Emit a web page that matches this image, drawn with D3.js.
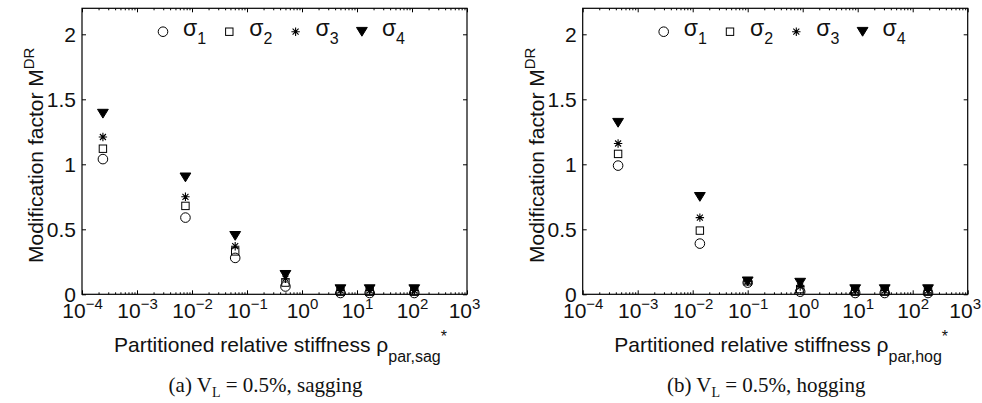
<!DOCTYPE html>
<html>
<head>
<meta charset="utf-8">
<script src="https://cdn.jsdelivr.net/npm/d3@7"></script>
<style>
  body { margin: 0; background: #fff; }
  svg text { fill: #111; }
</style>
</head>
<body>
<script>
// data
const xTicks = [1e-4, 1e-3, 1e-2, 1e-1, 1e0, 1e1, 1e2, 1e3];
const yTicks = [0, 0.5, 1, 1.5, 2];
const seriesNames = ["1", "2", "3", "4"];

// (a) sagging
const xSag = [2.4e-4, 7.6e-3, 0.061, 0.5, 5, 17, 110];
const sagS1 = [1.04, 0.59, 0.28, 0.06, 0.01, 0.01, 0.01];
const sagS2 = [1.12, 0.68, 0.33, 0.09, 0.02, 0.02, 0.02];
const sagS3 = [1.21, 0.75, 0.37, 0.12, 0.03, 0.03, 0.03];
const sagS4 = [1.39, 0.90, 0.45, 0.15, 0.04, 0.04, 0.04];

// (b) hogging
const xHog = [4.4e-4, 0.0135, 0.1, 0.9, 9, 31, 190];
const hogS1 = [0.99, 0.39, 0.09, 0.02, 0.01, 0.01, 0.01];
const hogS2 = [1.08, 0.49, 0.10, 0.04, 0.02, 0.02, 0.02];
const hogS3 = [1.16, 0.59, 0.10, 0.06, 0.03, 0.03, 0.03];
const hogS4 = [1.32, 0.75, 0.10, 0.09, 0.04, 0.04, 0.04];

const W = 982, H = 403;
const plotW = 385, plotH = 286;
const SANS = "Liberation Sans, Arial, Helvetica, sans-serif";
const SERIF = "Liberation Serif, Times New Roman, serif";

const svg = d3.select("body")
    .append("svg")
    .attr("width", W)
    .attr("height", H)
    .attr("font-family", SANS);

// marker shapes, MATLAB style
const markers = [
  g => g.append("circle").attr("r", 4.8).attr("fill", "none").attr("stroke", "#000").attr("stroke-width", 1),
  g => g.append("rect").attr("x", -3.7).attr("y", -3.7).attr("width", 7.4).attr("height", 7.4)
        .attr("fill", "none").attr("stroke", "#000").attr("stroke-width", 1),
  g => g.append("path").attr("d", "M-4.2,0H4.2M0,-4.2V4.2M-3,-3L3,3M-3,3L3,-3")
        .attr("fill", "none").attr("stroke", "#000").attr("stroke-width", 1.1),
  g => g.append("path").attr("d", "M-5.4,-4.3L5.4,-4.3L0,4.5Z").attr("fill", "#000").attr("stroke", "#000")
];

function drawPanel(left, xs, series, sub, caption) {
  const g = svg.append("g").attr("transform", `translate(${left}, 8.3)`);

  const x = d3.scaleLog().domain([1e-4, 1e3]).range([0, plotW]);
  const y = d3.scaleLinear().domain([0, 2.2]).range([plotH, 0]);

  const minor = [];
  for (let e = -4; e < 3; e++) for (let m = 2; m <= 9; m++) minor.push(m * Math.pow(10, e));

  // minor ticks bottom / top
  g.append("g").attr("transform", `translate(0, ${plotH})`)
    .call(d3.axisBottom(x).tickValues(minor).tickSize(-2).tickSizeOuter(0).tickFormat(""));
  g.append("g")
    .call(d3.axisTop(x).tickValues(minor).tickSize(-2).tickSizeOuter(0).tickFormat(""));

  // major x ticks
  const xAxis = g.append("g").attr("transform", `translate(0, ${plotH})`)
    .call(d3.axisBottom(x).tickValues(xTicks).tickSize(-4).tickSizeOuter(0).tickPadding(9).tickFormat(""));
  xAxis.selectAll(".tick text")
    .attr("font-size", 21)
    .attr("dy", "0.71em")
    .attr("dx", d => d === 1e3 ? -3 : 0)
    .each(function(d) {
      const t = d3.select(this);
      t.append("tspan").text("10");
      t.append("tspan").attr("dy", -9).attr("font-size", 15)
        .text(String(Math.round(Math.log10(d))).replace("-", "\u2212"));
    });
  g.append("g")
    .call(d3.axisTop(x).tickValues(xTicks).tickSize(-4).tickSizeOuter(0).tickFormat(""));

  // y ticks
  g.append("g")
    .call(d3.axisLeft(y).tickValues(yTicks).tickSize(-4).tickSizeOuter(0).tickPadding(6).tickFormat(d3.format("")))
    .selectAll("text").attr("font-size", 21);
  g.append("g").attr("transform", `translate(${plotW}, 0)`)
    .call(d3.axisRight(y).tickValues(yTicks).tickSize(-4).tickSizeOuter(0).tickFormat(""));

  g.selectAll(".domain").remove();
  g.selectAll(".tick line").attr("stroke", "#000");
  g.selectAll(".tick text").attr("font-family", SANS);

  // box
  g.append("rect")
    .attr("width", plotW).attr("height", plotH)
    .attr("fill", "none").attr("stroke", "#000").attr("stroke-width", 1.2);

  // data
  series.forEach((vals, i) => {
    g.append("g").selectAll("g")
      .data(vals.map((v, j) => [xs[j], v]))
      .join("g")
      .attr("transform", d => `translate(${x(d[0])}, ${y(d[1])})`)
      .each(function() { markers[i](d3.select(this)); });
  });

  // legend
  const legY = y(2.02);
  seriesNames.forEach((n, i) => {
    const lx = 81 + i * 66.3;
    markers[i](g.append("g").attr("transform", `translate(${lx}, ${legY})`));
    const t = g.append("text").attr("x", lx + 20).attr("y", legY + 4).attr("font-size", 23);
    t.append("tspan").text("\u03C3");
    t.append("tspan").attr("dy", 8).attr("font-size", 16).text(n);
  });

  // x label
  const xl = g.append("text")
    .attr("x", plotW / 2 + 6).attr("y", plotH + 58)
    .attr("text-anchor", "middle").attr("font-size", 21);
  xl.append("tspan").text("Partitioned relative stiffness \u03C1");
  xl.append("tspan").attr("dy", 10).attr("font-size", 16).text(sub);
  xl.append("tspan").attr("dy", -20).attr("font-size", 16).text("*");

  // y label
  const yl = g.append("text")
    .attr("transform", `translate(-39, ${plotH / 2 + 4}) rotate(-90)`)
    .attr("text-anchor", "middle").attr("font-size", 21);
  yl.append("tspan").text("Modification factor M");
  yl.append("tspan").attr("dy", -9).attr("font-size", 15).text("DR");

  // caption
  const cap = g.append("text")
    .attr("x", plotW / 2 - 9).attr("y", plotH + 98)
    .attr("text-anchor", "middle")
    .attr("font-family", SERIF)
    .attr("font-size", 21);
  cap.append("tspan").text(caption[0] + " V");
  cap.append("tspan").attr("dy", 5).attr("font-size", 14).text("L");
  cap.append("tspan").attr("dy", -5).text(caption[1]);
}

drawPanel(82, xSag, [sagS1, sagS2, sagS3, sagS4], "par,sag", ["(a)", " = 0.5%, sagging"]);
drawPanel(582.7, xHog, [hogS1, hogS2, hogS3, hogS4], "par,hog", ["(b)", " = 0.5%, hogging"]);
</script>
</body>
</html>
